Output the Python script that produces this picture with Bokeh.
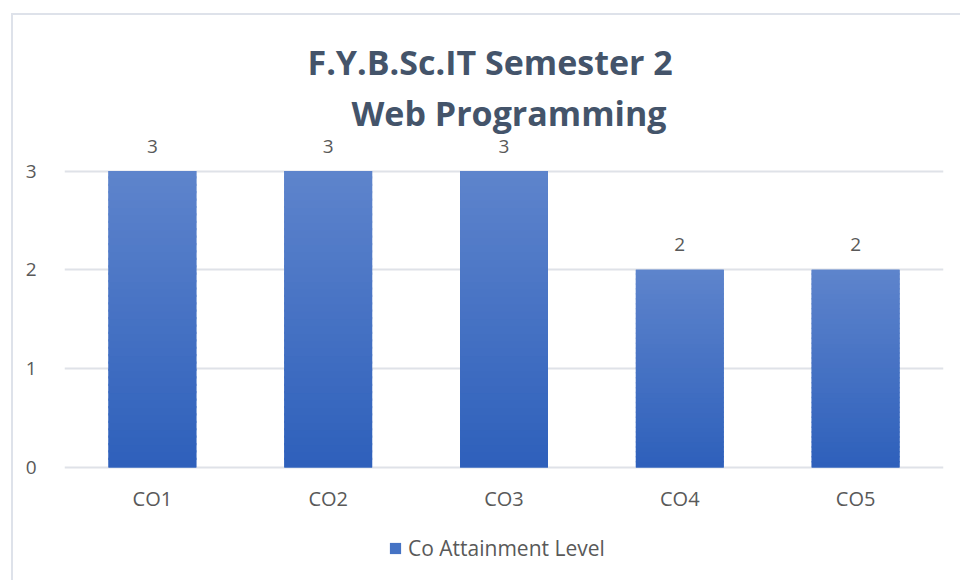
from bokeh.plotting import figure
from bokeh.models import (ColumnDataSource, LabelSet, Legend, LegendItem, FixedTicker, Title, Range1d)
from bokeh.core.properties import value
from bokeh.embed import file_html
from bokeh.resources import INLINE

categories = ["CO1", "CO2", "CO3", "CO4", "CO5"]
values = [3, 3, 3, 2, 2]
series_name = "Co Attainment Level"
y_ticks = [0, 1, 2, 3]
title_lines = ["F.Y.B.Sc.IT Semester 2", "Web Programming"]

TOP = (0x5E, 0x84, 0xCC)
BOT = (0x2E, 0x60, 0xBB)
N = 40
BAR_W = 0.5
FONT = "Open Sans"
TXT = "#595959"

def mix(t):
    return "#%02x%02x%02x" % tuple(int(round(b + (a - b) * t)) for a, b in zip(TOP, BOT))

p = figure(width=960, height=580, x_range=categories, y_range=Range1d(-1.145, 3.35),
           output_backend="svg", toolbar_location=None,
           min_border_left=64, min_border_right=17, min_border_top=136, min_border_bottom=0)
p.styles = {"box-shadow": "inset 11px 13px 0 0 #ffffff, inset 13px 15px 0 0 #dee2ea"}
p.border_fill_color = None
p.background_fill_color = None
p.outline_line_color = None

src = ColumnDataSource(dict(cat=categories, val=values, lbl=[str(v) for v in values],
                            zero=[0] * len(values)))
main = p.vbar(x="cat", top="val", width=BAR_W, source=src, fill_color="#4573c4", line_color=None)

# gradient slices computed from the data values
xs, bots, tops, cols = [], [], [], []
for c, v in zip(categories, values):
    for k in range(N):
        xs.append(c)
        bots.append(v * k / N)
        tops.append(v * (k + 1) / N + (v / N * 0.3 if k < N - 1 else 0))
        cols.append(mix((k + 0.5) / N))
p.vbar(x=xs, bottom=bots, top=tops, width=BAR_W, fill_color=cols, line_color=None)

labels = LabelSet(x="cat", y="val", text="lbl", source=src, y_offset=25,
                  text_align="center", text_baseline="middle",
                  text_font=value(FONT), text_font_size="19px", text_color=TXT)
p.add_layout(labels)

cat_labels = LabelSet(x="cat", y="zero", text="cat", source=src, y_offset=-31,
                      text_align="center", text_baseline="middle",
                      text_font=value(FONT), text_font_size="20px", text_color=TXT)
p.add_layout(cat_labels)

p.xaxis.visible = False
p.xgrid.grid_line_color = None
p.ygrid.grid_line_color = "#dfe2e8"
p.ygrid.grid_line_width = 2
p.yaxis.ticker = FixedTicker(ticks=y_ticks)
ax = p.yaxis[0]
ax.axis_line_color = None
ax.major_tick_line_color = None
ax.minor_tick_line_color = None
ax.major_label_text_font = FONT
ax.major_label_text_font_size = "19px"
ax.major_label_text_color = TXT
ax.major_label_standoff = 22

t2 = Title(text=title_lines[1], align="left", text_font=FONT,
           text_font_size="34px", text_font_style="bold", text_color="#44546a",
           offset=287, standoff=2)
t1 = Title(text=title_lines[0], align="left", text_font=FONT,
           text_font_size="34px", text_font_style="bold", text_color="#44546a",
           offset=243, standoff=3)
p.add_layout(t2, "above")
p.add_layout(t1, "above")

legend = Legend(items=[LegendItem(label=series_name, renderers=[main])],
                orientation="horizontal", location=(324, 18),
                label_text_font=FONT, label_text_font_size="21px",
                label_text_color=TXT, border_line_color=None,
                glyph_width=14, glyph_height=14, label_standoff=6, margin=0, padding=0,
                background_fill_alpha=0)
p.add_layout(legend)

open("out.html", "w").write(file_html(p, INLINE))
